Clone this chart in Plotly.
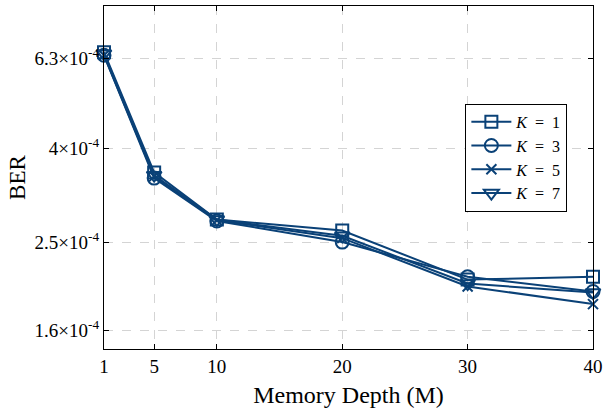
import plotly.graph_objects as go
import numpy as np

memory_depth = [1, 5, 10, 20, 30, 40]
ber_k1 = [6.5e-4, 3.55e-4, 2.80e-4, 2.65e-4, 2.07e-4, 2.10e-4]
ber_k3 = [6.4e-4, 3.45e-4, 2.78e-4, 2.50e-4, 2.10e-4, 1.95e-4]
ber_k5 = [6.4e-4, 3.48e-4, 2.79e-4, 2.55e-4, 2.00e-4, 1.83e-4]
ber_k7 = [6.45e-4, 3.50e-4, 2.80e-4, 2.58e-4, 2.03e-4, 1.94e-4]
series_names = ["<i>K</i>\u2002=\u20021", "<i>K</i>\u2002=\u20023",
                "<i>K</i>\u2002=\u20025", "<i>K</i>\u2002=\u20027"]
y_tick_vals = [1.6e-4, 2.5e-4, 4e-4, 6.3e-4]
y_tick_text = ["1.6×10<sup>-4</sup>", "2.5×10<sup>-4</sup>", "4×10<sup>-4</sup>", "6.3×10<sup>-4</sup>"]
x_tick_vals = [1, 5, 10, 20, 30, 40]

color = "#0a4177"
symbols = ["square-open", "circle-open", "x-thin-open", "triangle-down-open"]
sizes = [12, 13, 10, 13]
font_family = "Liberation Serif, Times New Roman, serif"

fig = go.Figure()
for name, vals, sym, sz in zip(series_names, [ber_k1, ber_k3, ber_k5, ber_k7], symbols, sizes):
    fig.add_trace(go.Scatter(
        x=memory_depth, y=vals, name=name, mode="lines+markers",
        line=dict(color=color, width=2),
        marker=dict(symbol=sym, size=sz, color=color, line=dict(color=color, width=2)),
        cliponaxis=False,
    ))

axis_common = dict(
    showline=True, linecolor="black", linewidth=1.2, mirror="ticks",
    ticks="inside", ticklen=5, tickcolor="black",
    showgrid=True, gridcolor="#d4d4d4", griddash="dash", gridwidth=1,
    zeroline=False, tickfont=dict(family=font_family, size=19, color="black"),
)

fig.update_xaxes(
    range=[1, 40], tickvals=x_tick_vals, ticktext=[str(v) for v in x_tick_vals],
    title=dict(text="Memory Depth (M)", font=dict(family=font_family, size=24, color="black"), standoff=10),
    **axis_common,
)
fig.update_yaxes(
    type="log", range=[np.log10(1.46e-4), np.log10(8.2e-4)],
    tickvals=y_tick_vals, ticktext=y_tick_text,
    title=dict(text="BER", font=dict(family=font_family, size=23, color="black"), standoff=2),
    **axis_common,
)

fig.update_layout(
    width=608, height=415,
    margin=dict(l=104, r=10, t=5, b=66),
    plot_bgcolor="white", paper_bgcolor="white",
    font=dict(family=font_family, color="black"),
    legend=dict(
        x=0.739, y=0.715, xanchor="left", yanchor="top",
        bordercolor="black", borderwidth=1, bgcolor="white",
        font=dict(family=font_family, size=16, color="black"),
        tracegroupgap=0, itemwidth=40,
    ),
)

fig.write_html("out.html", config={"displayModeBar": False},
               post_script="document.body.style.margin='0';")
